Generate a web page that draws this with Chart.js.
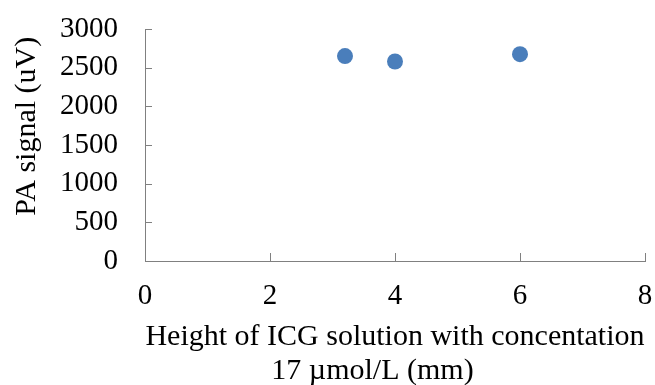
<!DOCTYPE html>
<html>
<head>
<meta charset="utf-8">
<script src="https://cdn.jsdelivr.net/npm/chart.js@4.4.1/dist/chart.umd.min.js"></script>
<style>
html,body{margin:0;padding:0;background:#fff;}
#wrap{width:655px;height:385px;position:relative;}
</style>
</head>
<body>
<div id="wrap"><canvas id="c"></canvas></div>
<script>
const heights = [3.2, 4, 6];
const signals = [2650, 2580, 2675];
const xTicks = [0, 2, 4, 6, 8];
const yTicks = [0, 500, 1000, 1500, 2000, 2500, 3000];
const xTitle = ['Height of ICG solution with concentation', '17 \u00b5mol/L (mm)      '];
const yTitle = '     PA signal (uV)';

const AXIS = '#808080';
const FONT = 'Liberation Serif, Times New Roman, serif';

const innerTicks = {
  id: 'innerTicks',
  afterDatasetsDraw(chart) {
    const ctx = chart.ctx;
    const xs = chart.scales.x, ys = chart.scales.y;
    const area = chart.chartArea;
    ctx.save();
    ctx.strokeStyle = AXIS;
    ctx.lineWidth = 1;
    ctx.beginPath();
    xTicks.forEach(v => {
      if (v === xTicks[0]) return;
      const p = Math.round(xs.getPixelForValue(v)) + 0.5;
      ctx.moveTo(p, area.bottom);
      ctx.lineTo(p, area.bottom - 8);
    });
    yTicks.forEach(v => {
      if (v === yTicks[0]) return;
      const p = Math.round(ys.getPixelForValue(v)) + 0.5;
      ctx.moveTo(area.left, p);
      ctx.lineTo(area.left + 7, p);
    });
    ctx.stroke();
    ctx.restore();
  }
};

new Chart(document.getElementById('c'), {
  type: 'scatter',
  data: {
    datasets: [{
      data: heights.map((h, i) => ({x: h, y: signals[i]})),
      backgroundColor: '#4a7ebb',
      borderWidth: 0,
      pointRadius: 8,
      pointHoverRadius: 8
    }]
  },
  options: {
    responsive: true,
    maintainAspectRatio: false,
    animation: false,
    events: [],
    layout: {padding: {top: 29, right: 10, bottom: 0, left: 0}},
    plugins: {legend: {display: false}, tooltip: {enabled: false}},
    scales: {
      x: {
        type: 'linear',
        min: 0, max: 8,
        afterBuildTicks(s) { s.ticks = xTicks.map(v => ({value: v})); },
        afterFit(s) { s.height = 124; s.paddingLeft = 0; s.paddingRight = 0; },
        grid: {drawOnChartArea: false, drawTicks: false, color: AXIS},
        border: {color: AXIS, width: 1},
        ticks: {color: '#000', padding: 18, maxRotation: 0, autoSkip: false,
                callback: v => String(v),
                font: {family: FONT, size: 29, lineHeight: 1.2}},
        title: {display: true, text: xTitle, color: '#000', padding: {top: 0, bottom: -3},
                font: {family: FONT, size: 30, lineHeight: 1.14}}
      },
      y: {
        type: 'linear',
        min: 0, max: 3000,
        afterBuildTicks(s) { s.ticks = yTicks.map(v => ({value: v})); },
        afterFit(s) { s.width = 145; s.paddingTop = 0; s.paddingBottom = 0; },
        grid: {drawOnChartArea: false, drawTicks: false, color: AXIS},
        border: {color: AXIS, width: 1},
        ticks: {color: '#000', padding: 27, autoSkip: false,
                callback: v => String(v),
                font: {family: FONT, size: 29, lineHeight: 1.2}},
        title: {display: true, text: yTitle, color: '#000', padding: {top: 12, bottom: 0},
                font: {family: FONT, size: 30, lineHeight: 1}}
      }
    }
  },
  plugins: [innerTicks]
});
</script>
</body>
</html>
